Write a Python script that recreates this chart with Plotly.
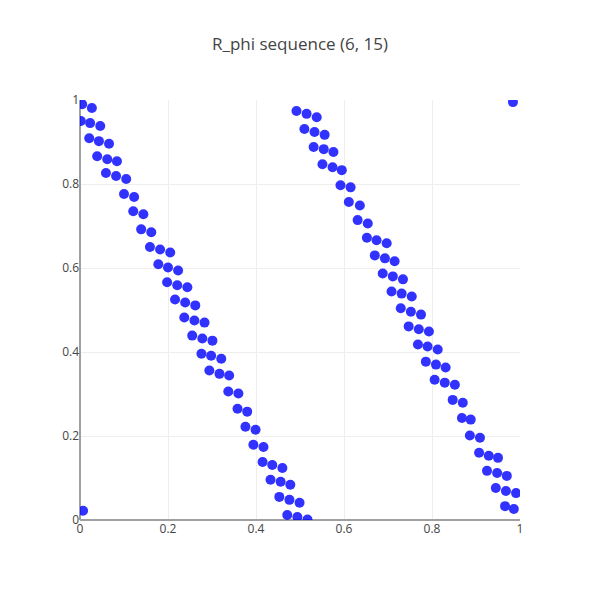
import plotly.graph_objects as go

# points (left band, right band, two stray points)
x_left = [
    0.005, 0.027,
    0.002, 0.023, 0.046,
    0.021, 0.043, 0.066,
    0.039, 0.062, 0.084,
    0.059, 0.082, 0.105,
    0.100, 0.123,
    0.121, 0.144,
    0.139, 0.162,
    0.159, 0.182, 0.205,
    0.178, 0.200, 0.223,
    0.198, 0.221, 0.244,
    0.216, 0.239, 0.262,
    0.237, 0.260, 0.283,
    0.255, 0.278, 0.301,
    0.276, 0.298, 0.321,
    0.294, 0.317, 0.339,
    0.337, 0.360,
    0.358, 0.380,
    0.376, 0.399,
    0.394, 0.417,
    0.415, 0.437, 0.460,
    0.433, 0.456, 0.478,
    0.453, 0.476, 0.499,
    0.471, 0.494, 0.517,
]
y_left = [
    0.990, 0.981,
    0.950, 0.945, 0.938,
    0.909, 0.902, 0.896,
    0.866, 0.859, 0.854,
    0.826, 0.819, 0.812,
    0.776, 0.769,
    0.735, 0.728,
    0.692, 0.685,
    0.650, 0.644, 0.637,
    0.609, 0.601, 0.594,
    0.566, 0.559, 0.554,
    0.525, 0.518, 0.511,
    0.482, 0.475, 0.470,
    0.439, 0.432, 0.427,
    0.396, 0.391, 0.384,
    0.356, 0.348, 0.344,
    0.306, 0.301,
    0.265, 0.258,
    0.222, 0.215,
    0.179, 0.174,
    0.138, 0.131, 0.124,
    0.096, 0.091, 0.084,
    0.055, 0.048, 0.041,
    0.012, 0.007, 0.001,
]

x_right = [
    0.492, 0.515, 0.538,
    0.510, 0.533, 0.556,
    0.531, 0.554, 0.576,
    0.551, 0.574, 0.595,
    0.592, 0.615,
    0.611, 0.636,
    0.631, 0.654,
    0.652, 0.674, 0.697,
    0.670, 0.693, 0.715,
    0.688, 0.711, 0.734,
    0.708, 0.731, 0.754,
    0.729, 0.752, 0.775,
    0.747, 0.770, 0.793,
    0.768, 0.790, 0.813,
    0.786, 0.809, 0.831,
    0.806, 0.829, 0.852,
    0.847, 0.870,
    0.868, 0.888,
    0.886, 0.909,
    0.907, 0.929, 0.950,
    0.925, 0.948, 0.970,
    0.945, 0.968, 0.991,
    0.966, 0.986,
]
y_right = [
    0.974, 0.967, 0.959,
    0.931, 0.924, 0.917,
    0.888, 0.883, 0.876,
    0.847, 0.840, 0.833,
    0.797, 0.792,
    0.757, 0.749,
    0.714, 0.706,
    0.672, 0.666, 0.659,
    0.630, 0.623, 0.616,
    0.587, 0.580, 0.573,
    0.544, 0.539, 0.532,
    0.504, 0.496, 0.489,
    0.461, 0.454, 0.449,
    0.418, 0.413, 0.406,
    0.377, 0.370, 0.363,
    0.334, 0.327, 0.322,
    0.286, 0.279,
    0.243, 0.239,
    0.201, 0.196,
    0.160, 0.153, 0.148,
    0.117, 0.112, 0.105,
    0.076, 0.069, 0.064,
    0.033, 0.026,
]

x_extra = [0.984, 0.007]
y_extra = [0.995, 0.022]

xs = x_left + x_right + x_extra
ys = y_left + y_right + y_extra

fig = go.Figure()
fig.add_trace(go.Scatter(
    x=xs, y=ys,
    mode="markers",
    marker=dict(color="blue", size=10),
    opacity=0.8,
    showlegend=False,
))

axis_style = dict(
    range=[0, 1],
    dtick=0.2,
    gridcolor="#eee",
    zeroline=True,
    zerolinecolor="#a0a0a0",
    zerolinewidth=2,
    ticks="",
)

fig.update_layout(
    template="none",
    width=600,
    height=600,
    title=dict(text="R_phi sequence (6, 15)", x=0.5, font=dict(size=17, color="#444")),
    xaxis=axis_style,
    yaxis=axis_style,
    margin=dict(l=80, r=80, t=100, b=80),
    plot_bgcolor="white",
    paper_bgcolor="white",
)

# page body has a default 8px margin; drop it so the figure sits at the corner
fig.write_html(
    "out.html",
    config={"displayModeBar": False},
    post_script="document.body.style.margin='0';",
)
